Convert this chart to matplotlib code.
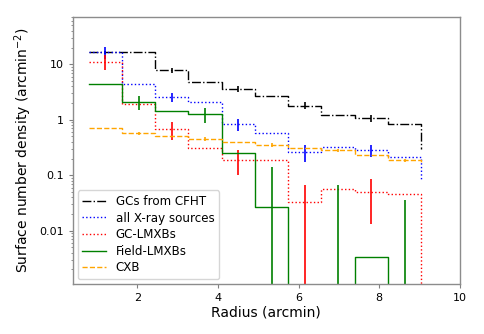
import numpy as np
import matplotlib
matplotlib.use("Agg")
import matplotlib.pyplot as plt

# Bin edges (arcmin)
edges = [0.80, 1.62, 2.45, 3.27, 4.10, 4.92, 5.74, 6.57, 7.39, 8.22, 9.04]

# Step values per bin (last entry = level at the outer edge)
gc_cfht = [16.4, 16.4, 7.9, 4.85, 3.6, 2.7, 1.8, 1.22, 1.06, 0.83, 0.30]
all_xray = [16.4, 4.5, 2.6, 2.07, 0.83, 0.57, 0.26, 0.32, 0.28, 0.21, 0.08]
gc_lmxb = [11.1, 1.92, 0.68, 0.31, 0.19, 0.19, 0.0325, 0.056, 0.050, 0.046, 0.0]
field_lmxb = [4.5, 2.12, 1.44, 1.26, 0.25, 0.027, 0.0, 0.0, 0.0034, 0.0, 0.0]
cxb = [0.72, 0.57, 0.52, 0.45, 0.40, 0.35, 0.31, 0.28, 0.23, 0.185, 0.17]

# Error bars: odd bins (1,3,5,7,9) for the first three, even bins for the last two
gc_cfht_err = [1.3, 0.8, 0.4, 0.25, 0.15]
all_xray_err = [4.0, 0.47, 0.2, 0.09, 0.07]
gc_lmxb_err = [3.3, 0.24, 0.09, 0.033, 0.037]
field_lmxb_err = [0.6, 0.4, 0.116, 0.067, 0.036]
cxb_err = [0.04, 0.03, 0.025, 0.02, 0.015]

labels = ["GCs from CFHT", "all X-ray sources", "GC-LMXBs", "Field-LMXBs", "CXB"]
colors = ["black", "blue", "red", "green", "orange"]
styles = ["-.", ":", ":", "-", "--"]

fig = plt.figure(figsize=(4.85, 3.34), dpi=100)
ax = fig.add_axes([0.150, 0.150, 0.798, 0.800])
ax.set_yscale("log", nonpositive="clip")

e = np.array(edges)
centers = 0.5 * (e[:-1] + e[1:])
odd = np.arange(0, 10, 2)
even = np.arange(1, 10, 2)

series = [gc_cfht, all_xray, gc_lmxb, field_lmxb, cxb]
errs = [gc_cfht_err, all_xray_err, gc_lmxb_err, field_lmxb_err, cxb_err]
idxs = [odd, odd, odd, even, even]

for vals, err, idx, lab, c, ls in zip(series, errs, idxs, labels, colors, styles):
    v = np.array(vals, dtype=float)
    ax.step(e, v, where="post", color=c, ls=ls, lw=1.0, label=lab)
    ev = v[idx]
    er = np.array(err)
    for xc, yv, ee in zip(centers[idx], ev, er):
        lo = yv - ee
        if lo <= 0:
            lo = 1e-8
        ax.vlines(xc, lo, yv + ee, color=c, lw=1.2)

ax.set_xlim(0.4, 10)
ax.set_ylim(1.1e-3, 72)
ax.set_xticks([2, 4, 6, 8, 10])
ax.set_yticks([10, 1, 0.1, 0.01])
ax.set_yticklabels(["10", "1", "0.1", "0.01"])
ax.tick_params(axis="both", which="major", labelsize=8, length=3, color="0.5", width=0.8)
ax.tick_params(axis="y", which="minor", length=1.8, color="0.5", width=0.6)
for sp in ax.spines.values():
    sp.set_color("0.55")
    sp.set_linewidth(1.0)

ax.set_xlabel("Radius (arcmin)", fontsize=10, labelpad=2)
ax.set_ylabel("Surface number density (arcmin$^{-2}$)", fontsize=10, labelpad=4)

ax.legend(loc="lower left", fontsize=8.6, frameon=True, handlelength=2.0,
          borderaxespad=0.4, labelspacing=0.3)

fig.savefig("out.png", dpi=100)
